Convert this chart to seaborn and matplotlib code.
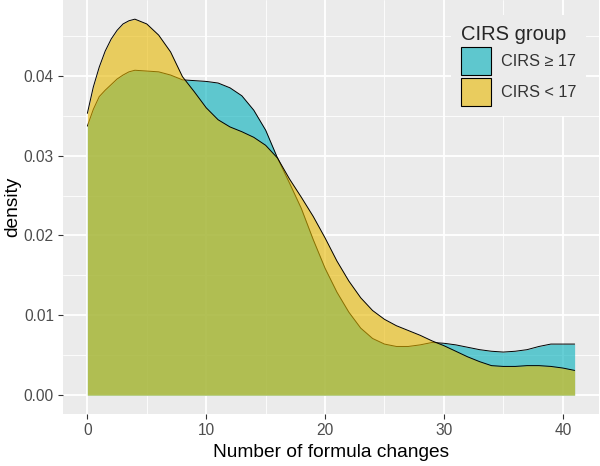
import numpy as np
import pandas as pd
import matplotlib
matplotlib.use("Agg")
import matplotlib.pyplot as plt
from matplotlib.patches import Patch
import seaborn as sns

# density values
changes = [0, 0.5, 1, 1.5, 2, 2.5, 3, 3.5, 4, 5, 6, 7, 8, 9,
           10, 11, 12, 13, 14, 15, 16, 17, 18, 19,
           20, 21, 22, 23, 24, 25, 26, 27, 28, 29,
           30, 31, 32, 33, 34, 35, 36, 37, 38, 39,
           40, 41]
dens_high = [0.0337, 0.0358, 0.0374, 0.0382, 0.0389, 0.0396, 0.0401, 0.0405, 0.0407, 0.0406,
             0.0405, 0.0401, 0.0395, 0.0394,
             0.0393, 0.0391, 0.0385, 0.0375, 0.0357, 0.0332, 0.0297, 0.0266, 0.0234, 0.0195,
             0.0159, 0.0129, 0.0104, 0.0084, 0.0071, 0.0064, 0.0061, 0.0061, 0.0063, 0.0066,
             0.0065, 0.0063, 0.0060, 0.0057, 0.0055, 0.0054, 0.0055, 0.0057, 0.0061, 0.0064,
             0.0064, 0.0064]
dens_low = [0.0353, 0.0386, 0.0411, 0.0431, 0.0446, 0.0457, 0.0465, 0.0469, 0.0471, 0.0465,
            0.0451, 0.0430, 0.0399, 0.0380,
            0.0360, 0.0345, 0.0336, 0.0330, 0.0323, 0.0313, 0.0297, 0.0271, 0.0248, 0.0224,
            0.0197, 0.0168, 0.0143, 0.0122, 0.0106, 0.0095, 0.0087, 0.0081, 0.0075, 0.0068,
            0.0062, 0.0055, 0.0048, 0.0042, 0.0037, 0.0036, 0.0036, 0.0037, 0.0037, 0.0036,
            0.0034, 0.0031]
groups = ["CIRS \u2265 17", "CIRS < 17"]
fills = ["#00AFBB", "#E7B800"]

df = pd.DataFrame({
    "changes": changes * 2,
    "density": dens_high + dens_low,
    "group": [groups[0]] * len(changes) + [groups[1]] * len(changes),
})

sns.set_theme(style="darkgrid", rc={
    "axes.facecolor": "#EBEBEB",
    "grid.color": "white",
    "axes.edgecolor": "#EBEBEB",
})
plt.rcParams["font.family"] = ["Liberation Sans", "DejaVu Sans"]

fig = plt.figure(figsize=(6, 4.66), dpi=100)
ax = fig.add_axes([63 / 600, 52 / 466, 536 / 600, 414 / 466])

for i, g in enumerate(groups):
    sub = df[df["group"] == g]
    ax.fill_between(sub["changes"], 0, sub["density"], color=fills[i], alpha=0.6,
                    lw=0, zorder=2 + 2 * i)
    sns.lineplot(data=sub, x="changes", y="density", color="black", lw=0.7,
                 ax=ax, zorder=3 + 2 * i, legend=False)

ax.set_xlim(-2.05, 43.05)
ax.set_ylim(-0.00236, 0.0495)
ax.set_xticks([0, 10, 20, 30, 40])
ax.set_yticks([0.0, 0.01, 0.02, 0.03, 0.04])
ax.set_yticklabels(["0.00", "0.01", "0.02", "0.03", "0.04"])
ax.set_xticks([5, 15, 25, 35], minor=True)
ax.set_yticks([0.005, 0.015, 0.025, 0.035, 0.045], minor=True)
ax.grid(which="major", color="white", lw=1.3)
ax.grid(which="minor", color="white", lw=0.6)
ax.tick_params(which="major", length=3.5, width=0.8, color="#333333",
               labelsize=11.2, labelcolor="#4D4D4D", pad=3, bottom=True, left=True)
ax.tick_params(which="minor", length=0)
for s in ax.spines.values():
    s.set_visible(False)

ax.set_xlabel("Number of formula changes", fontsize=13.8, color="black", labelpad=4)
ax.set_ylabel("density", fontsize=13.8, color="black", labelpad=2)

handles = [Patch(facecolor="#5EC7CE", edgecolor="black", lw=0.8),
           Patch(facecolor="#E9CC5E", edgecolor="black", lw=0.8)]
leg = ax.legend(handles, groups, title="CIRS group", loc="upper right",
                bbox_to_anchor=(594 / 600, 1 - 7 / 466), bbox_transform=fig.transFigure,
                frameon=True, fancybox=False, framealpha=1, edgecolor="white",
                fontsize=11.7, title_fontsize=14.5, handlelength=1.85, handleheight=2.3,
                labelspacing=0.18, handletextpad=0.6, borderpad=0.6, alignment="left")
leg.get_frame().set_linewidth(0)
for t in leg.get_texts():
    t.set_color("#333333")

fig.savefig("out.png", dpi=100)
